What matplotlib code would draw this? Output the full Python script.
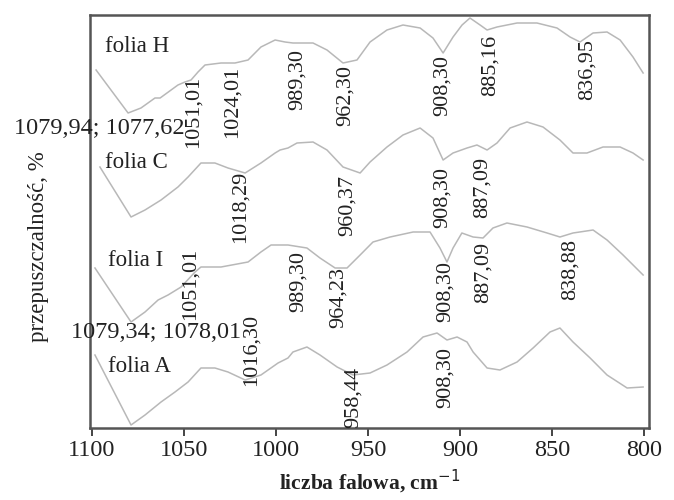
import matplotlib
matplotlib.use("Agg")
import matplotlib.pyplot as plt

plt.rcParams['font.family'] = ['Liberation Serif', 'DejaVu Serif']

# ---- data (wavenumber cm^-1, transmittance in arbitrary units) ----
wn_H = [1097.8, 1080.4, 1073.4, 1065.8, 1063.0, 1053.3, 1049.5, 1046.2, 1042.4, 1038.6, 1029.9,
        1022.3, 1015.2, 1008.2, 1000.5, 995.1, 990.8, 979.9, 972.3, 963.6, 956.0, 948.9, 939.7,
        931.0, 921.7, 914.7, 909.2, 903.8, 898.9, 894.6, 889.1, 885.3, 879.9, 869.0, 858.2,
        847.3, 840.2, 834.8, 827.7, 820.1, 813.0, 806.0, 800.5]
T_H = [358, 315, 320, 330, 330, 343, 346, 348, 356, 363, 365,
       365, 368, 381, 388, 386, 385, 385, 378, 365, 368, 386, 398,
       403, 400, 390, 375, 391, 403, 410, 403, 398, 401, 405, 405,
       400, 391, 386, 395, 396, 388, 371, 355]

wn_C = [1095.7, 1078.8, 1071.2, 1062.5, 1053.3, 1047.8, 1040.8, 1033.2, 1026.1, 1016.8, 1008.2,
        1000.5, 997.8, 993.5, 988.6, 979.9, 972.3, 963.6, 954.3, 948.9, 939.7, 931.0, 921.7,
        914.7, 909.2, 903.8, 896.2, 890.8, 885.3, 879.9, 872.8, 863.6, 854.9, 845.7, 838.6,
        831.0, 822.3, 813.0, 806.0, 800.5]
T_C = [261, 211, 218, 228, 241, 251, 265, 265, 260, 255, 265,
       275, 278, 280, 285, 286, 278, 261, 255, 266, 281, 293, 300,
       290, 268, 275, 280, 283, 278, 285, 300, 306, 301, 288, 275,
       275, 281, 281, 275, 268]

wn_I = [1098.4, 1078.8, 1071.2, 1064.1, 1058.7, 1051.6, 1044.0, 1040.8, 1029.9, 1015.2, 1008.2,
        1002.7, 993.5, 983.2, 976.1, 967.9, 961.4, 954.3, 947.3, 938.0, 925.5, 916.3, 910.9,
        907.1, 903.8, 899.0, 892.9, 887.5, 882.1, 874.5, 863.6, 852.7, 845.7, 838.6, 827.7,
        820.1, 811.4, 800.5]
T_I = [160, 106, 116, 128, 133, 141, 156, 161, 161, 166, 176,
       183, 183, 180, 170, 160, 160, 173, 186, 191, 196, 196, 180,
       166, 180, 195, 191, 190, 200, 205, 201, 195, 191, 195, 198,
       188, 173, 153]

wn_A = [1098.4, 1078.8, 1071.2, 1062.5, 1054.9, 1047.8, 1040.8, 1033.2, 1026.1, 1016.8, 1008.2,
        998.9, 993.5, 990.8, 983.2, 976.1, 966.8, 958.2, 948.9, 939.7, 928.8, 920.1, 912.5,
        907.1, 901.6, 896.2, 892.9, 885.3, 878.3, 869.0, 860.3, 851.1, 845.7, 838.6, 829.3,
        820.1, 809.2, 800.5]
T_A = [73, 3, 13, 26, 36, 46, 60, 60, 56, 48, 53,
       65, 70, 76, 81, 73, 61, 53, 55, 63, 76, 91, 95,
       88, 91, 86, 76, 60, 58, 66, 80, 96, 100, 86, 70,
       53, 40, 41]

series_names = ["folia H", "folia C", "folia I", "folia A"]

# peak labels: text, x, y
peak_text = ["1051,01", "1024,01", "989,30", "962,30", "908,30", "885,16", "836,95",
             "1018,29", "960,37", "908,30", "887,09",
             "1051,01", "989,30", "964,23", "908,30", "887,09", "838,88",
             "1016,30", "958,44", "908,30"]
peak_x = [1045.1, 1023.9, 988.6, 962.5, 909.8, 883.7, 830.9,
          1019.6, 961.4, 909.8, 888.0,
          1046.7, 988.0, 966.3, 908.2, 887.5, 840.2,
          1013.6, 958.2, 908.2]
peak_y = [316, 326, 348, 332, 343, 363, 358,
          221, 223, 231, 241,
          144, 147, 131, 136, 156, 158,
          78, 31, 51]

pair_text = ["1079,94; 1077,62", "1079,34; 1078,01"]
pair_x = [1049.5, 1019.0]
pair_y = [300, 96]

name_x = [1092.9, 1092.9, 1091.3, 1091.3]
name_y = [381, 266, 168, 61]

xticks = [1100, 1050, 1000, 950, 900, 850, 800]

# ---- figure ----
fig = plt.figure(figsize=(6.74, 5.0), dpi=100)
ax = fig.add_axes([90/674, 72/500, 559/674, 413/500])

line_col = '#b8b8b8'
for wn, T in [(wn_H, T_H), (wn_C, T_C), (wn_I, T_I), (wn_A, T_A)]:
    ax.plot(wn, T, color=line_col, lw=1.1)

ax.set_xlim(1101.1, 797.3)
ax.set_ylim(0, 413)
ax.set_xticks(xticks)
ax.set_xticklabels([str(t) for t in xticks])
ax.set_yticks([])
ax.tick_params(axis='x', direction='out', length=6, width=1.4, colors='#444444',
               labelsize=17.5, labelcolor='#222222', pad=3)
for sp in ax.spines.values():
    sp.set_color('#555555')
    sp.set_linewidth(1.8)

txt_col = '#222222'
fs = 16
for t, x, y in zip(peak_text, peak_x, peak_y):
    ax.text(x, y, t, rotation=90, ha='center', va='center', fontsize=fs, color=txt_col,
            clip_on=False)
for t, x, y in zip(pair_text, pair_x, pair_y):
    ax.text(x, y, t, ha='right', va='center', fontsize=17.5, color=txt_col, clip_on=False)
for t, x, y in zip(series_names, name_x, name_y):
    ax.text(x, y, t, ha='left', va='center', fontsize=16.5, color=txt_col)

ax.set_xlabel('liczba falowa, cm$^{-1}$', fontsize=15.5, fontweight='bold', color=txt_col)
ax.xaxis.set_label_coords(0.5, -0.098)
ax.set_ylabel('przepuszczalność, %', fontsize=16.5, color=txt_col)
ax.yaxis.set_label_coords(-0.073, 0.438)

fig.savefig('out.png', dpi=100)
